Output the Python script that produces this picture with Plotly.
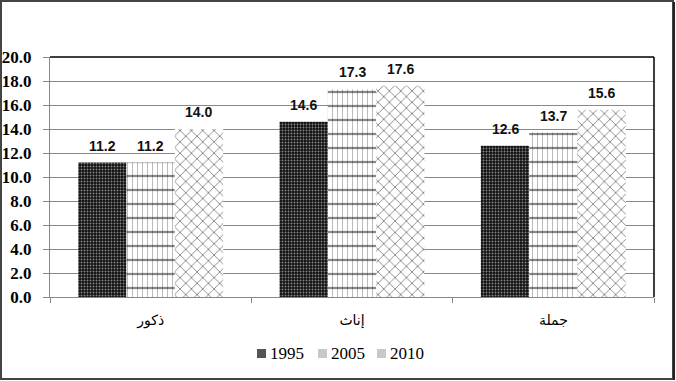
import plotly.graph_objects as go

categories = ["ذكور", "إناث", "جملة"]
years = ["1995", "2005", "2010"]
v1995 = [11.2, 14.6, 12.6]
v2005 = [11.2, 17.3, 13.7]
v2010 = [14.0, 17.6, 15.6]
y_ticks = [0, 2, 4, 6, 8, 10, 12, 14, 16, 18, 20]

W, H = 676, 381
ML, MR, MT, MB = 50, 22, 57, 84
PW, PH = W - ML - MR, H - MT - MB


def px_x(px):
    return (px - ML) / PW


def px_y(py):
    return (MT + PH - py) / PH


bw = 0.24
offsets = [-0.36, -0.12, 0.12]
series = [v1995, v2005, v2010]

fig = go.Figure()

# 1995: dense dark pattern
fig.add_trace(go.Bar(
    x=categories, y=v1995, name="1995", width=bw, offset=offsets[0],
    marker=dict(color="black", line=dict(width=0),
                pattern=dict(shape=".", fgcolor="white", bgcolor="#111", size=3, solidity=0.3)),
    showlegend=False))
# 2005: thin vertical lines + thick horizontal lines
fig.add_trace(go.Bar(
    x=categories, y=v2005, name="2005", width=bw, offset=offsets[1],
    marker=dict(color="white", line=dict(width=0),
                pattern=dict(shape="|", fgcolor="#777", bgcolor="white", size=5, solidity=0.2)),
    showlegend=False))
fig.add_trace(go.Bar(
    x=categories, y=v2005, name="2005", width=bw, offset=offsets[1],
    marker=dict(color="rgba(0,0,0,0)", line=dict(width=0),
                pattern=dict(shape="-", fgcolor="#111", bgcolor="rgba(0,0,0,0)", size=14, solidity=0.16)),
    showlegend=False, hoverinfo="skip"))
# 2010: diamond lattice
fig.add_trace(go.Bar(
    x=categories, y=v2010, name="2010", width=bw, offset=offsets[2],
    marker=dict(color="white", line=dict(width=0),
                pattern=dict(shape="x", fgcolor="#111", bgcolor="white", size=8, solidity=0.22)),
    showlegend=False))

annotations = []
for s, off in zip(series, offsets):
    for i, v in enumerate(s):
        annotations.append(dict(
            x=i + off + bw / 2, y=v, xref="x", yref="y", text=f"{v:.1f}",
            showarrow=False, yanchor="bottom", yshift=7,
            font=dict(family="Liberation Sans", size=14, color="#111", weight="bold")))

shapes = [
    # plot area top and right border (black)
    dict(type="line", xref="paper", yref="paper", x0=0, x1=1, y0=1, y1=1,
         line=dict(color="black", width=1.5)),
    dict(type="line", xref="paper", yref="paper", x0=1, x1=1, y0=0, y1=1,
         line=dict(color="black", width=1.5)),
    # outer chart border
    dict(type="rect", xref="paper", yref="paper",
         x0=px_x(1), x1=px_x(W - 3), y0=px_y(H - 2), y1=px_y(1),
         line=dict(color="#444", width=2)),
    dict(type="line", xref="paper", yref="paper",
         x0=px_x(W - 2), x1=px_x(W - 2), y0=px_y(H - 1), y1=px_y(2),
         line=dict(color="#222", width=2)),
]

# legend (swatch + label per year)
legend_colors = ["#555555", "#c8c8c8", "#c8c8c8"]
swatch_left = [257, 318, 377]
for yr, c, sx in zip(years, legend_colors, swatch_left):
    shapes.append(dict(type="rect", xref="paper", yref="paper",
                       x0=px_x(sx), x1=px_x(sx + 9), y0=px_y(358), y1=px_y(349),
                       fillcolor=c, line=dict(width=0)))
    annotations.append(dict(x=px_x(sx + 11), y=px_y(353.5), xref="paper", yref="paper",
                            text=yr, showarrow=False, xanchor="left", yanchor="middle",
                            font=dict(family="Liberation Serif", size=17, color="black")))

fig.update_layout(
    width=W, height=H,
    margin=dict(l=ML, r=MR, t=MT, b=MB, autoexpand=False),
    paper_bgcolor="white", plot_bgcolor="white",
    barmode="overlay",
    showlegend=False,
    annotations=annotations,
    shapes=shapes,
    xaxis=dict(type="category", categoryorder="array", categoryarray=categories,
               range=[-0.5, 2.5], automargin=False,
               showline=True, linecolor="#888", linewidth=1,
               ticks="outside", tickson="boundaries", ticklen=5, tickcolor="#888",
               showgrid=False, ticklabelstandoff=10,
               tickfont=dict(family="DejaVu Sans", size=14, color="black")),
    yaxis=dict(range=[0, 20], tickvals=y_ticks, ticktext=[f"{t:.1f}" for t in y_ticks],
               automargin=False,
               showline=True, linecolor="#888", linewidth=1,
               ticks="outside", ticklen=6, tickcolor="#888",
               showgrid=True, gridcolor="#888", gridwidth=1, zeroline=False,
               ticklabelstandoff=8,
               tickfont=dict(family="Liberation Serif", size=17, color="black", weight="bold")),
)

fig.write_html("out.html", config={"displayModeBar": False},
               post_script="document.body.style.margin='0';")
